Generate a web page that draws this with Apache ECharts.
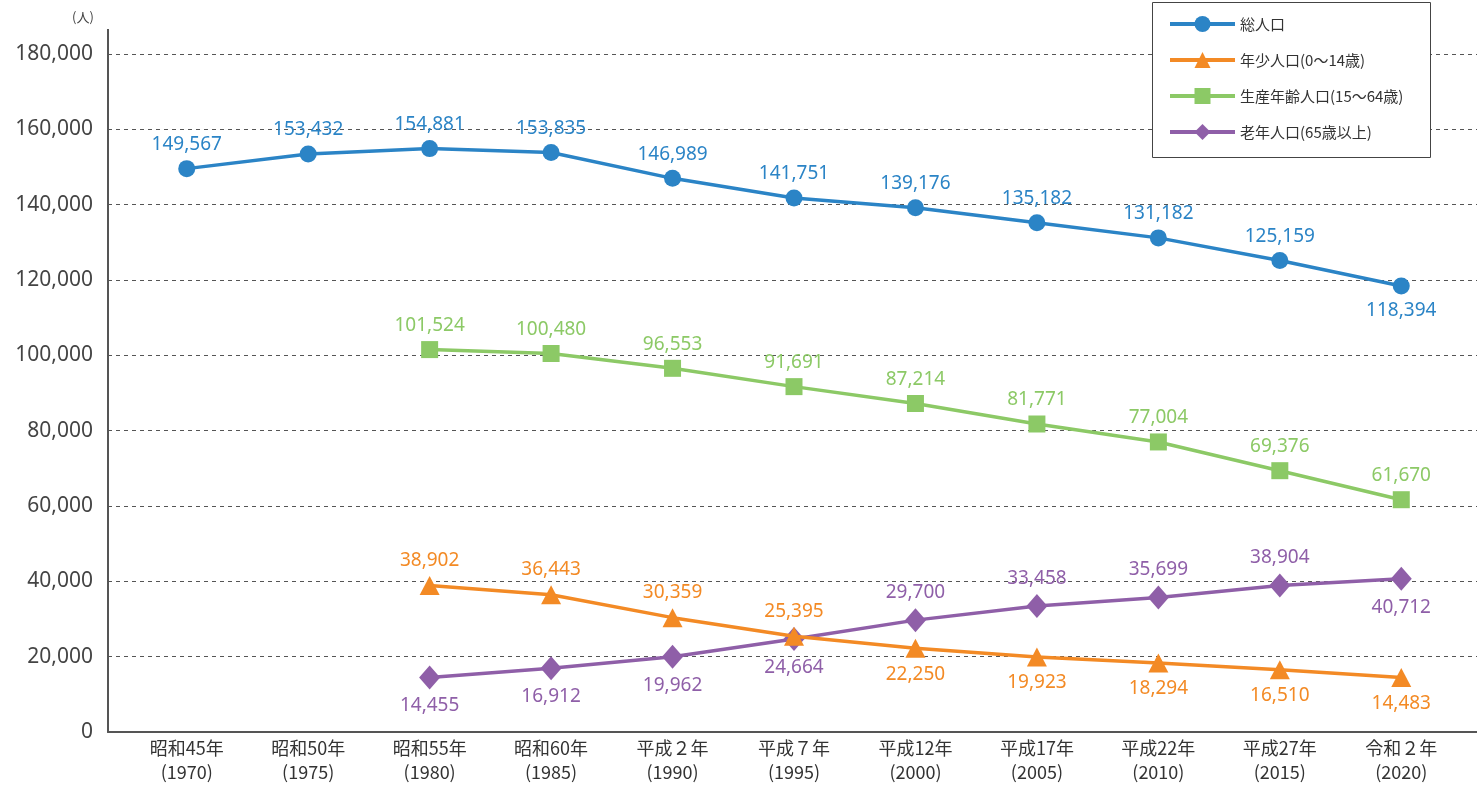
<!DOCTYPE html>
<html>
<head>
<meta charset="utf-8">
<script src="https://cdn.jsdelivr.net/npm/echarts@6/dist/echarts.min.js"></script>
<style>
html,body{margin:0;padding:0;background:#fff;}
#c{width:1477px;height:785px;}
</style>
</head>
<body>
<div id="c"></div>
<script>
const categories = ['昭和45年\n(1970)','昭和50年\n(1975)','昭和55年\n(1980)','昭和60年\n(1985)','平成２年\n(1990)','平成７年\n(1995)','平成12年\n(2000)','平成17年\n(2005)','平成22年\n(2010)','平成27年\n(2015)','令和２年\n(2020)'];
const seriesNames = ['総人口','年少人口(0〜14歳)','生産年齢人口(15〜64歳)','老年人口(65歳以上)'];
const totalPop = [149567,153432,154881,153835,146989,141751,139176,135182,131182,125159,118394];
const youngPop = [null,null,38902,36443,30359,25395,22250,19923,18294,16510,14483];
const workingPop = [null,null,101524,100480,96553,91691,87214,81771,77004,69376,61670];
const elderlyPop = [null,null,14455,16912,19962,24664,29700,33458,35699,38904,40712];
const yMin = 0, yMax = 180000, yStep = 20000;
const unitLabel = '(人)';

const colors = ['#2b84c6','#f38a25','#8cc966','#8f5fa8'];
const fmt = v => v.toLocaleString('en-US');
// indices whose label sits below the point
const below = [
  [10],
  [6,7,8,9,10],
  [],
  [2,3,4,5,10]
];
function buildData(arr, si){
  return arr.map((v,i)=>{
    if(v===null) return null;
    const b = below[si].includes(i);
    return {value:v, label:{position: b?'bottom':'top', distance: b?7:6}};
  });
}
const symbols = ['circle','triangle','rect','diamond'];
const sizes = [17,[20,19],17,[21,24]];
const allData = [totalPop,youngPop,workingPop,elderlyPop];

const chart = echarts.init(document.getElementById('c'));
const series = allData.map((arr,si)=>({
  name: seriesNames[si],
  type:'line',
  xAxisIndex:1, yAxisIndex:1,
  data: buildData(arr,si),
  symbol: symbols[si],
  symbolSize: sizes[si],
  showAllSymbol:true,
  lineStyle:{width:3.5,color:colors[si]},
  itemStyle:{color:colors[si]},
  label:{show:true,formatter:p=>fmt(p.value),color:colors[si],fontSize:19,fontFamily:'Noto Sans'},
  z: 10-si,
  connectNulls:false
}));

chart.setOption({
  animation:false,
  color:colors,
  grid:[
    {left:108,right:0,top:54,bottom:53},
    {left:126,right:15,top:54,bottom:53}
  ],
  xAxis:[
    {gridIndex:0,type:'value',min:0,max:1,axisLine:{show:true,lineStyle:{color:'#555',width:2}},axisTick:{show:false},axisLabel:{show:false},splitLine:{show:false}},
    {gridIndex:1,type:'category',data:categories,boundaryGap:true,axisLine:{show:false},axisTick:{show:false},
     axisLabel:{interval:0,margin:4,fontSize:18,lineHeight:24,color:'#333',fontFamily:'Noto Sans CJK JP'}}
  ],
  yAxis:[
    {gridIndex:0,type:'value',min:yMin,max:yMax,interval:yStep,
     axisLine:{show:true,lineStyle:{color:'#555',width:2}},axisTick:{show:false},
     axisLabel:{formatter:v=>fmt(v),fontSize:21,color:'#444',margin:15,fontFamily:'Noto Sans'},
     splitLine:{show:true,lineStyle:{color:'#555',width:1,type:[4,4]}}},
    {gridIndex:1,type:'value',min:yMin,max:yMax,interval:yStep,show:false,splitLine:{show:false}}
  ],
  legend:{
    data:seriesNames,
    orient:'vertical',left:1168,top:14,
    itemWidth:65,itemHeight:20,itemGap:16,
    padding:0,
    z:20,
    lineStyle:{width:4},
    textStyle:{fontSize:15,lineHeight:20,color:'#333',fontFamily:'Noto Sans CJK JP'}
  },
  graphic:[
    {type:'rect',shape:{x:1152.5,y:2.5,width:278,height:155},style:{fill:'#fff',stroke:'#444',lineWidth:1},z:15,silent:true},
    {type:'line',shape:{x1:108,y1:29,x2:108,y2:55},style:{stroke:'#555',lineWidth:2}},
    {type:'text',left:72,top:11,style:{text:unitLabel,fontSize:13,fill:'#444',fontFamily:'Noto Sans CJK JP'}}
  ],
  series:series
});
</script>
</body>
</html>
